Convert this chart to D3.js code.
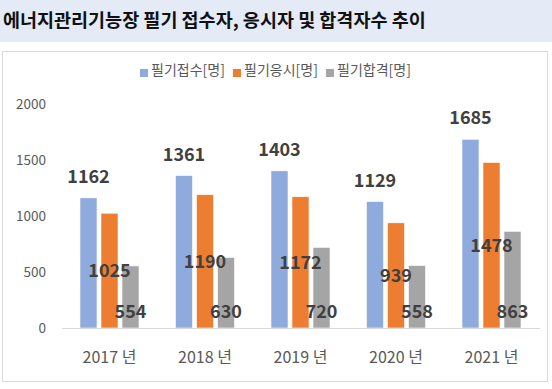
<!DOCTYPE html>
<html>
<head>
<meta charset="utf-8">
<script src="https://cdn.jsdelivr.net/npm/d3@7"></script>
<style>
  body { margin: 0; background: #fff; }
  svg { display: block; font-family: "Noto Sans CJK KR", "Noto Sans", sans-serif; }
</style>
</head>
<body>
<div id="chart"></div>
<script>
const TITLE = "에너지관리기능장 필기 접수자, 응시자 및 합격자수 추이";
const years = ["2017 년", "2018 년", "2019 년", "2020 년", "2021 년"];
const seriesNames = ["필기접수[명]", "필기응시[명]", "필기합격[명]"];
const seriesColors = ["#8FAADC", "#ED7D31", "#A5A5A5"];
const applied = [1162, 1361, 1403, 1129, 1685];
const tested = [1025, 1190, 1172, 939, 1478];
const passed = [554, 630, 720, 558, 863];
const yTicks = [0, 500, 1000, 1500, 2000];

const W = 552, H = 389;
const LABEL_COLOR = "#404040", AXIS_TEXT = "#595959";

const svg = d3.select("#chart").append("svg")
  .attr("width", W).attr("height", H);

// title band
svg.append("rect").attr("x", 0).attr("y", 0).attr("width", W).attr("height", 42)
  .attr("fill", "#E4EAF6");
svg.append("text").attr("x", 3).attr("y", 27)
  .attr("font-size", 18.5).attr("font-weight", "bold").attr("fill", "#111")
  .text(TITLE);

// chart frame
svg.append("rect").attr("x", 2.5).attr("y", 51.5).attr("width", 545).attr("height", 330)
  .attr("fill", "#fff").attr("stroke", "#D9D9D9").attr("stroke-width", 1);

const y = d3.scaleLinear().domain([0, 2000]).range([328, 104]);
const x0 = d3.scaleBand().domain(years).range([61.75, 539.25])
  .paddingInner(0.382).paddingOuter(0.191);
const x1 = d3.scaleBand().domain(seriesNames).range([0, x0.bandwidth()])
  .paddingInner(0.19);

// y tick labels
svg.append("g").selectAll("text").data(yTicks).join("text")
  .attr("x", 46).attr("y", d => y(d)).attr("dy", "0.35em")
  .attr("text-anchor", "end").attr("font-size", 13.5).attr("fill", AXIS_TEXT)
  .text(d => d);

const data = years.map((yr, i) => ({
  year: yr,
  vals: [applied[i], tested[i], passed[i]]
}));

const groups = svg.append("g").selectAll("g").data(data).join("g")
  .attr("transform", d => `translate(${x0(d.year)},0)`);

groups.selectAll("rect").data(d => d.vals.map((v, k) => ({ k, v }))).join("rect")
  .attr("x", d => x1(seriesNames[d.k]))
  .attr("y", d => y(d.v))
  .attr("width", x1.bandwidth())
  .attr("height", d => y(0) - y(d.v))
  .attr("fill", d => seriesColors[d.k])
  .attr("stroke", "#fff").attr("stroke-width", 0.6);

// baseline
svg.append("line").attr("x1", 62).attr("x2", 540).attr("y1", 328.5).attr("y2", 328.5)
  .attr("stroke", "#D9D9D9");

// data labels: outside end / center / inside base
groups.selectAll("text.val").data(d => d.vals.map((v, k) => ({ k, v }))).join("text")
  .attr("class", "val")
  .attr("x", d => x1(seriesNames[d.k]) + x1.bandwidth() / 2)
  .attr("y", d => {
    if (d.k === 0) return y(d.v) - 15;
    if (d.k === 1) return (y(d.v) + y(0)) / 2 + 6.5;
    return y(0) - 10;
  })
  .attr("text-anchor", "middle")
  .attr("font-size", 18).attr("font-weight", "bold").attr("fill", LABEL_COLOR)
  .text(d => d.v);

// x labels
svg.append("g").selectAll("text").data(years).join("text")
  .attr("x", d => x0(d) + x0.bandwidth() / 2).attr("y", 357).attr("dy", "0.35em")
  .attr("text-anchor", "middle").attr("font-size", 16).attr("fill", AXIS_TEXT)
  .text(d => d);

// legend
const legendX = [140, 233, 326];
const legend = svg.append("g").selectAll("g").data(seriesNames).join("g")
  .attr("transform", (d, i) => `translate(${legendX[i]},0)`);
legend.append("rect").attr("x", 0).attr("y", 69).attr("width", 8).attr("height", 8)
  .attr("fill", (d, i) => seriesColors[i]);
legend.append("text").attr("x", 11).attr("y", 70).attr("dy", "0.35em")
  .attr("font-size", 14).attr("fill", AXIS_TEXT)
  .text(d => d);
</script>
</body>
</html>
